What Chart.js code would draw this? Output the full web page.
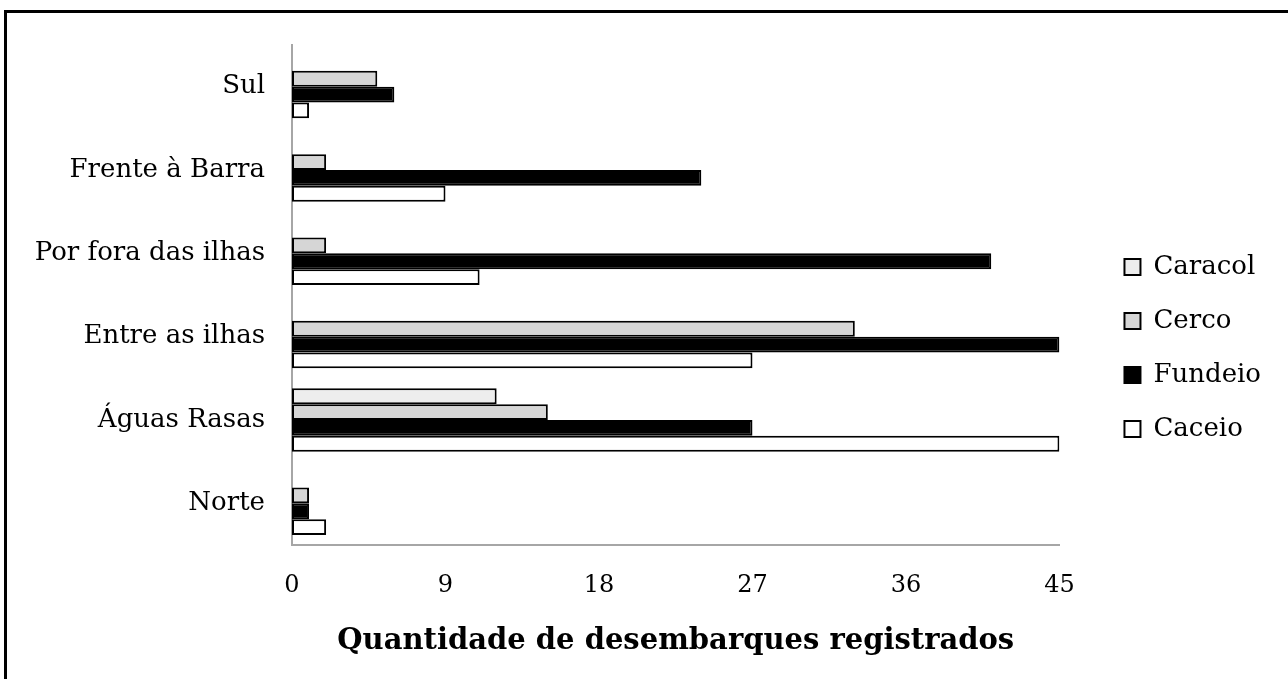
<!DOCTYPE html>
<html>
<head>
<meta charset="utf-8">
<script src="https://cdn.jsdelivr.net/npm/chart.js@4.4.0/dist/chart.umd.min.js"></script>
<style>
  html, body { margin: 0; padding: 0; background: #fff; }
  body { width: 1288px; height: 679px; position: relative; overflow: hidden; }
  #frame { position: absolute; left: 4px; top: 10px; width: 1300px; height: 700px;
           border-top: 3px solid #000; border-left: 3px solid #000; }
  #wrap { position: absolute; left: 0; top: 0; width: 1288px; height: 679px; }
</style>
</head>
<body>
<div id="frame"></div>
<div id="wrap"><canvas id="chart"></canvas></div>
<script>
// === Data (top to bottom) ===
const zones = ['Sul', 'Frente à Barra', 'Por fora das ilhas', 'Entre as ilhas', 'Águas Rasas', 'Norte'];
const caracol = [0, 0, 0, 0, 12, 0];
const cerco = [5, 2, 2, 33, 15, 1];
const fundeio = [6, 24, 41, 45, 27, 1];
const caceio = [1, 9, 11, 27, 45, 2];
const xTicks = [0, 9, 18, 27, 36, 45];

const serif = "'DejaVu Serif', serif";
const legendShift = 37;

// push the legend a little away from the plot, like the original
const legendGap = {
  id: 'legendGap',
  afterInit(chart) {
    const legend = chart.legend;
    const fit = legend.fit.bind(legend);
    legend.fit = function () { fit(); this.width += legendShift; };
  },
  afterLayout(chart) {
    const legend = chart.legend;
    legend.left += legendShift;
    legend.top -= 14;
    legend.bottom -= 14;
  }
};

function series(label, data, fill) {
  return {
    label,
    data,
    backgroundColor: fill,
    borderColor: '#000',
    borderWidth: 2,
    borderSkipped: false
  };
}

new Chart(document.getElementById('chart'), {
  type: 'bar',
  data: {
    labels: zones,
    datasets: [
      series('Caracol', caracol, '#ededed'),
      series('Cerco', cerco, '#d6d6d6'),
      series('Fundeio', fundeio, '#000'),
      series('Caceio', caceio, '#fff')
    ]
  },
  options: {
    indexAxis: 'y',
    responsive: true,
    maintainAspectRatio: false,
    animation: false,
    categoryPercentage: 0.76,
    barPercentage: 1.0,
    layout: { padding: { top: 45, left: 0, right: 17, bottom: 0 } },
    plugins: {
      tooltip: { enabled: false },
      title: { display: false },
      legend: {
        position: 'right',
        labels: {
          color: '#000',
          font: { family: serif, size: 26 },
          boxWidth: 16,
          boxHeight: 16,
          padding: 28
        }
      }
    },
    scales: {
      x: {
        min: 0,
        max: 45,
        afterBuildTicks: scale => { scale.ticks = xTicks.map(v => ({ value: v })); },
        grid: { display: false, drawTicks: false },
        border: { display: true, color: '#a6a6a6', width: 2 },
        ticks: { color: '#000', font: { family: serif, size: 24 }, padding: 26 },
        title: {
          display: true,
          text: 'Quantidade de desembarques registrados',
          color: '#000',
          font: { family: serif, size: 29, weight: 'bold' },
          padding: { top: 0, bottom: 20 }
        },
        afterFit: scale => { scale.height = 134; }
      },
      y: {
        grid: { display: false, drawTicks: false },
        border: { display: true, color: '#a6a6a6', width: 2 },
        ticks: { color: '#000', font: { family: serif, size: 26 }, padding: 27 },
        afterFit: scale => { scale.width = 292; }
      }
    }
  },
  plugins: [legendGap]
});
</script>
</body>
</html>
